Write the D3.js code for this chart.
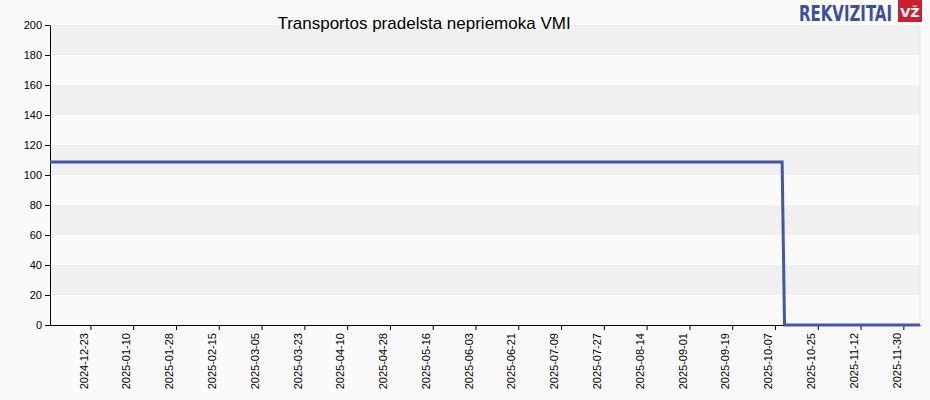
<!DOCTYPE html>
<html><head><meta charset="utf-8">
<script src="https://cdn.jsdelivr.net/npm/d3@7"></script>
<style>body{margin:0;background:#fafafa}svg{display:block}</style>
</head><body>
<svg id="c" width="930" height="400"></svg>
<script>
// series: last known value before the drop, then zero
const dates = ['2024-12-06', '2025-10-10', '2025-10-11', '2025-12-07']
const values = [108.7, 108.7, 0, 0]
const tickDates = ['2024-12-23','2025-01-10','2025-01-28','2025-02-15','2025-03-05','2025-03-23','2025-04-10','2025-04-28','2025-05-16','2025-06-03','2025-06-21','2025-07-09','2025-07-27','2025-08-14','2025-09-01','2025-09-19','2025-10-07','2025-10-25','2025-11-12','2025-11-30']
const yTicks = [0, 20, 40, 60, 80, 100, 120, 140, 160, 180, 200]
const title = 'Transportos pradelsta nepriemoka VMI'

const parse = d3.utcParse('%Y-%m-%d')
const svg = d3.select('#c')
const m = { l: 50, r: 920, t: 25, b: 325 }

const x = d3.scaleUtc()
  .domain([parse('2024-12-06'), parse('2025-12-07')])
  .range([m.l, m.r])
const y = d3.scaleLinear().domain([0, 200]).range([m.b, m.t])

// bands
let g = svg.append('g')
for (let i = 0; i < yTicks.length - 1; i++) {
  g.append('rect')
    .attr('x', m.l).attr('width', m.r - m.l)
    .attr('y', y(yTicks[i + 1])).attr('height', y(yTicks[i]) - y(yTicks[i + 1]))
    .attr('fill', i % 2 ? '#f0f0f0' : '#fafafa')
}
svg.append('line').attr('x1', m.r).attr('x2', m.r).attr('y1', m.t).attr('y2', m.b)
  .attr('stroke', '#e6e6e6')

svg.append('g')
  .attr('transform', `translate(${m.l},0)`)
  .call(d3.axisLeft(y).tickValues(yTicks).tickSize(5).tickSizeOuter(0))
  .call(a => a.selectAll('text').attr('font-size', 11).attr('fill', '#000').attr('font-family', 'Arial, Liberation Sans'))

svg.append('g')
  .attr('transform', `translate(0,${m.b})`)
  .call(d3.axisBottom(x).tickValues(tickDates.map(parse)).tickFormat(d3.utcFormat('%Y-%m-%d')).tickSize(5).tickSizeOuter(0))
  .call(a => a.selectAll('text')
    .attr('font-size', 11).attr('fill', '#000').attr('font-family', 'Arial, Liberation Sans')
    .attr('text-anchor', 'end').attr('transform', 'rotate(-90)')
    .attr('dx', '-8').attr('dy', '-0.3em').attr('x', 0).attr('y', 0))
svg.selectAll('.domain').attr('stroke', '#000')

const line = d3.line().x((d, i) => x(parse(dates[i]))).y(d => y(d))
svg.append('path').datum(values)
  .attr('d', line).attr('fill', 'none')
  .attr('stroke', '#4257a6').attr('stroke-width', 3)

svg.append('text').attr('x', 424).attr('y', 29).attr('text-anchor', 'middle')
  .attr('font-size', 17).attr('font-family', 'Arial, Liberation Sans').text(title)

// logo
svg.append('text').attr('x', 799).attr('y', 21)
  .attr('font-size', 22).attr('font-weight', 'bold').attr('fill', '#3a4fa0')
  .attr('font-family', 'DejaVu Sans Condensed').attr('textLength', 93).attr('lengthAdjust', 'spacingAndGlyphs')
  .text('REKVIZITAI')
svg.append('rect').attr('x', 898).attr('y', 0).attr('width', 24).attr('height', 22).attr('fill', '#c8202f')
svg.append('text').attr('x', 910).attr('y', 17).attr('text-anchor', 'middle')
  .attr('font-size', 13).attr('font-weight', 'bold').attr('fill', '#fff')
  .attr('font-family', 'DejaVu Sans').text('VŽ')
</script>
</body></html>
